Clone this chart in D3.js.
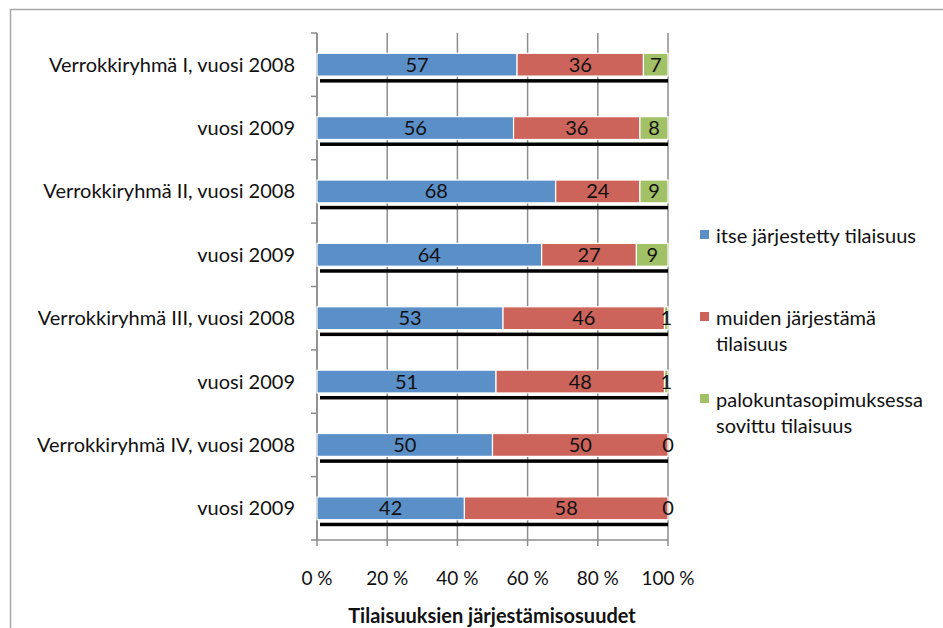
<!DOCTYPE html>
<html>
<head>
<meta charset="utf-8">
<script src="https://cdn.jsdelivr.net/npm/d3@7"></script>
<style>
  body { margin: 0; background: #fff; }
  svg { display: block; font-family: Lato, "Open Sans", sans-serif; }
</style>
</head>
<body>
<svg id="chart" width="943" height="628"></svg>
<script>
// Category labels, top to bottom
const categories = [
  "Verrokkiryhmä I, vuosi 2008",
  "vuosi 2009",
  "Verrokkiryhmä II, vuosi 2008",
  "vuosi 2009",
  "Verrokkiryhmä III, vuosi 2008",
  "vuosi 2009",
  "Verrokkiryhmä IV, vuosi 2008",
  "vuosi 2009"
];
// Shares (%) per series
const itseJarjestetty = [57, 56, 68, 64, 53, 51, 50, 42];
const muidenJarjestama = [36, 36, 24, 27, 46, 48, 50, 58];
const palokuntasopimus = [7, 8, 9, 9, 1, 1, 0, 0];

const seriesNames = [
  ["itse järjestetty tilaisuus"],
  ["muiden järjestämä", "tilaisuus"],
  ["palokuntasopimuksessa", "sovittu tilaisuus"]
];
const seriesColors = ["#5b8fc8", "#cc645b", "#a2c166"];
const xTicks = [0, 20, 40, 60, 80, 100];

const svg = d3.select("#chart");

// outer frame (top and left edges visible)
svg.append("path")
  .attr("d", "M10.5,628 V9.5 H943")
  .attr("fill", "none").attr("stroke", "#a6a6a6").attr("stroke-width", 1.5);

const plotLeft = 317, plotRight = 668, plotTop = 33, plotBottom = 540;
// rounded shares can sum to 101; keep bars inside the 100 % frame
const x = d3.scaleLinear().domain([0, 100]).range([plotLeft, plotRight]).clamp(true);
const y = d3.scaleBand().domain(d3.range(categories.length)).range([plotTop, plotBottom]).paddingInner(0.64).paddingOuter(0.32);

const rows = categories.map((c, i) => ({
  label: c,
  vals: [itseJarjestetty[i], muidenJarjestama[i], palokuntasopimus[i]]
}));
const stacked = d3.stack().keys([0, 1, 2]).value((d, k) => d.vals[k])(rows);

// vertical gridlines
svg.append("g").selectAll("line").data(xTicks).join("line")
  .attr("x1", d => x(d)).attr("x2", d => x(d))
  .attr("y1", plotTop).attr("y2", plotBottom + 6)
  .attr("stroke", "#8c8c8c").attr("stroke-width", 1.5);

// y axis with band boundary ticks
svg.append("line").attr("x1", plotLeft).attr("x2", plotLeft).attr("y1", plotTop).attr("y2", plotBottom)
  .attr("stroke", "#8c8c8c").attr("stroke-width", 1.5);
const step = (plotBottom - plotTop) / categories.length;
svg.append("g").selectAll("line").data(d3.range(categories.length + 1)).join("line")
  .attr("x1", plotLeft - 6).attr("x2", plotLeft)
  .attr("y1", d => plotTop + d * step).attr("y2", d => plotTop + d * step)
  .attr("stroke", "#8c8c8c").attr("stroke-width", 1.5);
svg.append("line").attr("x1", plotLeft).attr("x2", plotRight).attr("y1", plotBottom).attr("y2", plotBottom)
  .attr("stroke", "#8c8c8c").attr("stroke-width", 1.5);

// shadow bar under each stacked bar
const defs = svg.append("defs");
defs.append("filter").attr("id", "soft").append("feGaussianBlur").attr("stdDeviation", 0.6);
svg.append("g").selectAll("rect").data(rows).join("rect")
  .attr("x", x(0) + 3).attr("width", x(100) - x(0) - 3)
  .attr("y", (d, i) => y(i) + y.bandwidth() + 3).attr("height", 3.5)
  .attr("fill", "#000").attr("filter", "url(#soft)");

// stacked segments
const layer = svg.append("g").selectAll("g").data(stacked).join("g")
  .attr("fill", (d, k) => seriesColors[k]);
layer.selectAll("rect").data(d => d.map((s, i) => ({ s, i }))).join("rect")
  .attr("x", d => x(d.s[0]))
  .attr("width", d => Math.max(0, x(d.s[1]) - x(d.s[0])))
  .attr("y", d => y(d.i)).attr("height", y.bandwidth())
  .attr("stroke", "#fff").attr("stroke-width", 1.2);

// value labels, centred in each segment
stacked.forEach((ser, k) => {
  svg.append("g").selectAll("text").data(ser.map((s, i) => ({ s, i }))).join("text")
    .attr("x", d => (x(d.s[0]) + x(d.s[1])) / 2)
    .attr("y", d => y(d.i) + y.bandwidth() / 2 + 7)
    .attr("text-anchor", "middle")
    .attr("font-size", 20).attr("fill", "#111")
    .text(d => d.s[1] - d.s[0]);
});

// category labels
svg.append("g").selectAll("text").data(categories).join("text")
  .attr("x", 295).attr("y", (d, i) => y(i) + y.bandwidth() / 2 + 7)
  .attr("text-anchor", "end").attr("font-size", 20).attr("fill", "#111")
  .text(d => d);

// x tick labels
svg.append("g").selectAll("text").data(xTicks).join("text")
  .attr("x", d => x(d)).attr("y", 585)
  .attr("text-anchor", "middle").attr("font-size", 19).attr("fill", "#111")
  .text(d => d + " %");

// axis title
svg.append("text").attr("x", 492).attr("y", 623)
  .attr("text-anchor", "middle").attr("font-size", 20).attr("font-weight", "bold").attr("fill", "#111")
  .text("Tilaisuuksien järjestämisosuudet");

// legend
const legendY = [236, 318, 400];
const lg = svg.append("g").selectAll("g").data(seriesNames).join("g")
  .attr("transform", (d, k) => `translate(700,${legendY[k]})`);
lg.append("rect").attr("x", 0).attr("y", -6).attr("width", 9).attr("height", 9)
  .attr("fill", (d, k) => seriesColors[k]);
lg.selectAll("text").data(d => d).join("text")
  .attr("x", 16).attr("y", (d, j) => 7 + j * 26)
  .attr("font-size", 20).attr("fill", "#111")
  .text(d => d);
</script>
</body>
</html>
